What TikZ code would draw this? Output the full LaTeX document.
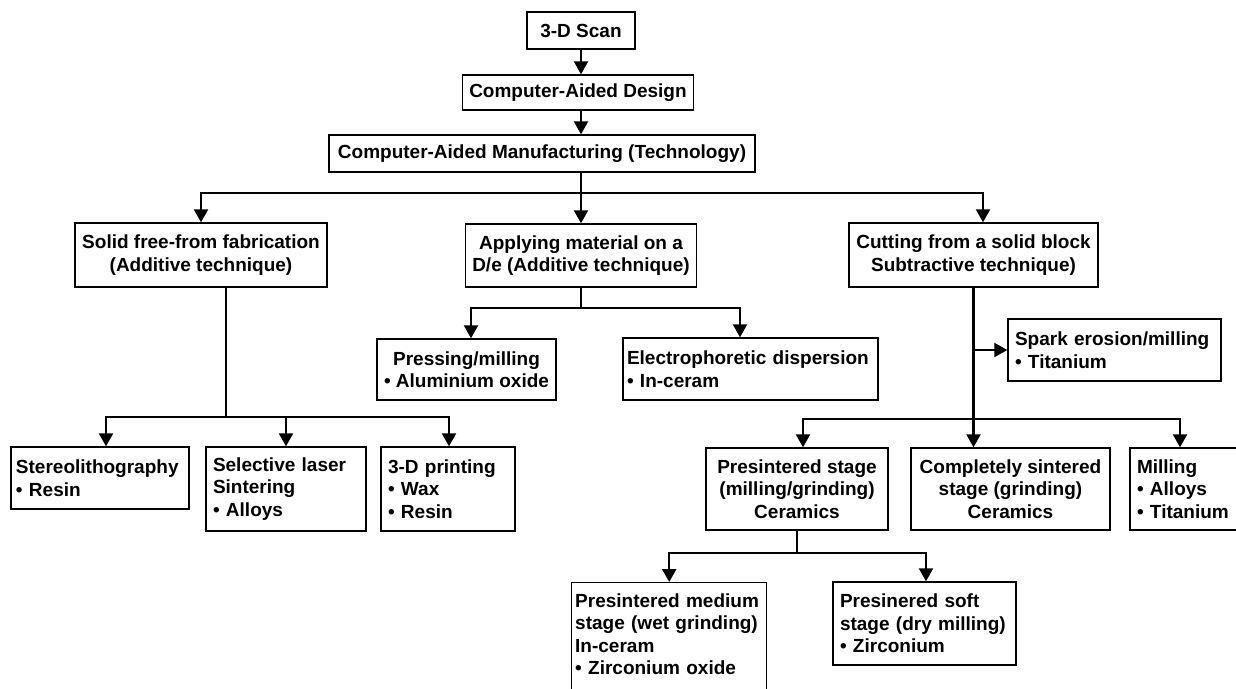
\documentclass[tikz,border=0pt]{standalone}
\usepackage{fontspec}
\setmainfont{Liberation Sans}
\usetikzlibrary{arrows.meta}
\hyphenpenalty=10000
\exhyphenpenalty=10000
\begin{document}
\begin{tikzpicture}[x=1pt,y=-1pt,
  font=\bfseries\fontsize{19}{22.5}\selectfont,
  box/.style={draw,line width=1.4pt,inner xsep=7pt,inner ysep=3pt,align=center},
  lbox/.style={box,align=left},
  conn/.style={line width=2.2pt},
  arr/.style={conn,-{Triangle[length=13pt,width=14pt]}},
]
\useasboundingbox (0,0) rectangle (1236,688);
\clip (0,0) rectangle (1236,688);

% top chain
\node[box,minimum width=108pt,minimum height=37pt] (scan) at (581,30.5) {3-D Scan};
\node[box,minimum width=230pt,minimum height=35pt] (cad) at (578,92.5) {Computer-Aided Design};
\node[box,minimum width=426pt,minimum height=37pt] (cam) at (542,153.5) {Computer-Aided Manufacturing (Technology)};

% level 2
\node[box,minimum width=252pt,minimum height=64pt] (sff) at (201,255) {Solid free-from fabrication\\(Additive technique)};
\node[box,minimum width=228pt,minimum height=63pt] (app) at (581,255.5) {Applying material on a\\D/e (Additive technique)};
\node[box,minimum width=249pt,minimum height=64pt] (cut) at (973.5,255) {Cutting from a solid block\\Subtractive technique)};

% applying branch
\node[box,minimum width=177pt,minimum height=61pt] (press) at (466.5,369.5) {Pressing/milling\\• Aluminium oxide};
\node[lbox,inner xsep=4pt,text width=247pt,minimum height=62pt] (electro) at (750.5,369) {Electrophoretic dispersion\\• In-ceram};

% cutting side branch
\node[lbox,text width=199pt,minimum height=62pt] (spark) at (1114.5,350) {Spark erosion/milling\\• Titanium};

% additive branch
\node[lbox,inner xsep=5pt,text width=168pt,minimum height=62pt] (stereo) at (100,478) {Stereolithography\\• Resin};
\node[lbox,text width=146pt,minimum height=84pt] (sls) at (286,489) {Selective laser\\Sintering\\• Alloys};
\node[lbox,text width=120pt,minimum height=84pt] (tdp) at (448,489) {3-D printing\\• Wax\\• Resin};

% subtractive branch
\node[box,minimum width=182pt,minimum height=82pt] (pre) at (797,489) {Presintered stage\\(milling/grinding)\\Ceramics};
\node[box,minimum width=199pt,minimum height=82pt] (comp) at (1010.5,489) {Completely sintered\\stage (grinding)\\Ceramics};
\node[lbox,text width=106pt,minimum height=82pt] (mill) at (1190,489) {Milling\\• Alloys\\• Titanium};

% presintered branch
\node[lbox,anchor=north west,inner xsep=3.5pt,inner ysep=11pt,text width=188pt] (med) at (571,582) {Presintered medium\\stage (wet grinding)\\In-ceram\\• Zirconium oxide\\ \mbox{}};
\node[lbox,text width=169pt,minimum height=83pt] (soft) at (924.5,623.5) {Presinered soft\\stage (dry milling)\\• Zirconium};

% connectors: top chain
\draw[arr] (scan.south) -- (scan.south |- cad.north);
\draw[arr] (scan.south |- cad.south) -- (scan.south |- cam.north);
\coordinate (b1) at (scan.south |- 0,193);
\draw[conn] (scan.south |- cam.south) -- (b1);
\draw[arr] (b1) -| (sff.north);
\draw[arr] (b1) -- (b1 |- app.north);
\draw[arr] (b1) -| ([xshift=9.5pt]cut.north);

% applying
\coordinate (b2) at (app.south |- 0,308);
\draw[conn] (app.south) -- (b2);
\draw[arr] (b2) -| ([xshift=4.5pt]press.north);
\draw[arr] (b2) -| ([xshift=-10.5pt]electro.north);

% additive
\coordinate (b3top) at ([xshift=25pt]sff.south);
\coordinate (b3) at (b3top |- 0,417);
\draw[conn] (b3top) -- (b3);
\draw[arr] (b3) -| ([xshift=6pt]stereo.north);
\draw[arr] (b3) -| (sls.north);
\draw[arr] (b3) -| ([xshift=1pt]tdp.north);

% subtractive
\coordinate (b4) at (cut.south |- 0,419);
\draw[conn] (cut.south) -- (b4);
\draw[arr] (cut.south |- spark.west) -- (spark.west);
\draw[arr] (b4) -| ([xshift=6pt]pre.north);
\draw[arr] (b4) -- (b4 |- comp.north);
\draw[arr] (b4) -| ([xshift=-10pt]mill.north);

% presintered
\coordinate (b5) at (pre.south |- 0,553);
\draw[conn] (pre.south) -- (b5);
\draw[arr] (b5) -| (med.north);
\draw[arr] (b5) -| ([xshift=1.5pt]soft.north);
\end{tikzpicture}
\end{document}
